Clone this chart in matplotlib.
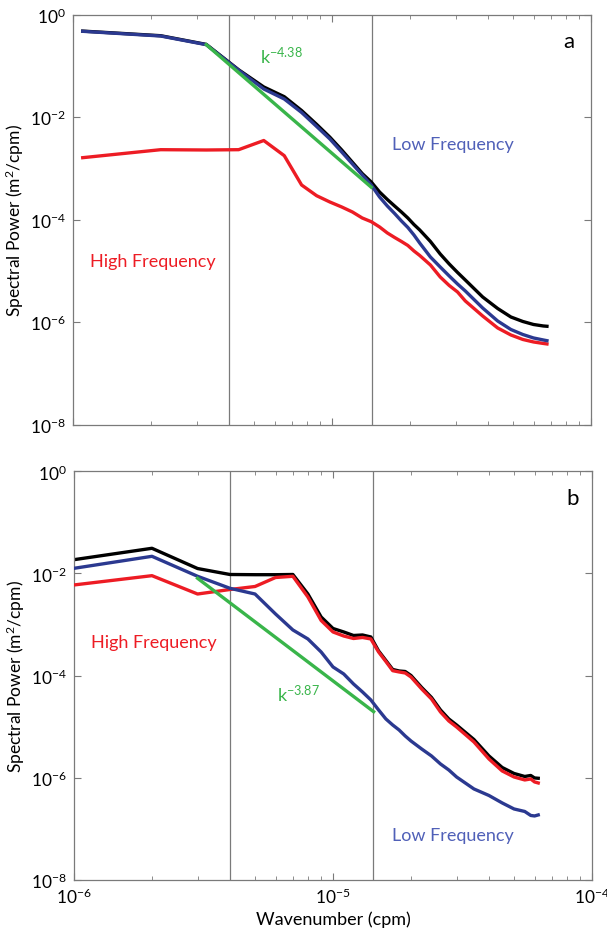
import numpy as np
import matplotlib
matplotlib.use("Agg")
import matplotlib.pyplot as plt
from matplotlib.ticker import LogLocator, NullFormatter

plt.rcParams['font.family'] = ['Lato', 'DejaVu Sans']
plt.rcParams['mathtext.fontset'] = 'custom'
plt.rcParams['mathtext.rm'] = 'Lato'
plt.rcParams['mathtext.it'] = 'Lato'

# panel a: wavenumbers (1e-6 cpm) and log10 spectral power
k_a = np.array([1.09, 2.18, 3.27, 4.36, 5.45, 6.54, 7.63, 8.72, 9.81, 10.9,
                11.99, 13.08, 14.17, 15.26, 16.35, 17.44, 18.53, 19.62, 20.71, 21.8,
                23.98, 26.16, 28.34, 30.52, 32.7, 38.15, 43.6, 49.05, 54.5, 59.95,
                65.4, 67.58]) * 1e-6
total_a = [-0.32, -0.41, -0.58, -1.075, -1.41, -1.60, -1.87, -2.14, -2.39, -2.64,
           -2.88, -3.10, -3.264, -3.46, -3.606, -3.733, -3.85, -3.967, -4.094, -4.2,
           -4.425, -4.669, -4.864, -5.03, -5.177, -5.508, -5.733, -5.899, -5.986, -6.045,
           -6.074, -6.08]
low_a = [-0.324, -0.416, -0.585, -1.083, -1.45, -1.645, -1.908, -2.181, -2.425, -2.679,
         -2.913, -3.128, -3.323, -3.557, -3.733, -3.879, -4.025, -4.152, -4.298, -4.455,
         -4.728, -4.923, -5.098, -5.255, -5.391, -5.723, -5.977, -6.143, -6.24, -6.308,
         -6.347, -6.361]
high_a = [-2.79, -2.634, -2.64, -2.634, -2.455, -2.751, -3.323, -3.532, -3.655, -3.752,
          -3.85, -3.967, -4.039, -4.142, -4.259, -4.347, -4.425, -4.503, -4.61, -4.698,
          -4.884, -5.118, -5.284, -5.411, -5.586, -5.879, -6.113, -6.25, -6.337, -6.386,
          -6.415, -6.425]
fit_k_a = [3.27e-6, 1.417e-5]
fit_p_a = [0.26, 4.3e-4]

# panel b
k_b = np.array([1, 2, 3, 4, 5, 6, 7, 8, 9, 10,
                11, 12, 13, 14, 15, 16, 17, 18, 19, 20,
                22, 24, 26, 28, 30, 35, 40, 45, 50, 55,
                58, 60, 62]) * 1e-6
total_b = [-1.730, -1.507, -1.903, -2.020, -2.024, -2.024, -2.020, -2.402, -2.852, -3.077,
           -3.145, -3.214, -3.204, -3.243, -3.517, -3.703, -3.879, -3.909, -3.919, -3.997,
           -4.232, -4.427, -4.672, -4.848, -4.966, -5.250, -5.572, -5.798, -5.915, -5.974,
           -5.954, -6.003, -6.009]
high_b = [-2.225, -2.043, -2.402, -2.314, -2.255, -2.079, -2.055, -2.460, -2.920, -3.145,
          -3.224, -3.273, -3.253, -3.282, -3.537, -3.723, -3.903, -3.928, -3.948, -4.026,
          -4.261, -4.457, -4.711, -4.887, -5.005, -5.298, -5.631, -5.866, -5.984, -6.042,
          -6.023, -6.081, -6.101]
low_b = [-1.899, -1.664, -2.055, -2.290, -2.402, -2.793, -3.106, -3.282, -3.537, -3.830,
         -3.967, -4.163, -4.320, -4.476, -4.672, -4.848, -4.966, -5.064, -5.181, -5.279,
         -5.436, -5.572, -5.729, -5.847, -5.984, -6.218, -6.346, -6.492, -6.610, -6.659,
         -6.737, -6.747, -6.727]
fit_k_b = [3e-6, 1.435e-5]
fit_p_b = [8.05e-3, 1.97e-5]

cutoffs = [4e-6, 1.43e-5]

RED = '#ed1c24'
BLUE = '#2b3990'
GREEN = '#39b54a'
LOWTXT = '#5060b8'
GRAY = '#7a7a7a'

fig = plt.figure(figsize=(6.07, 9.29), dpi=100)
ax_a = fig.add_axes([0.1203, 0.5418, 0.8534, 0.4413])
ax_b = fig.add_axes([0.1219, 0.0517, 0.8534, 0.4399])


def panel(ax, k, total, low, high, fit_k, fit_p):
    for c in cutoffs:
        ax.axvline(c, color=GRAY, lw=0.9, zorder=1)
    ax.plot(k, 10 ** np.array(total), color='black', lw=2.4, zorder=2)
    ax.plot(k, 10 ** np.array(high), color=RED, lw=2.4, zorder=3)
    ax.plot(k, 10 ** np.array(low), color=BLUE, lw=2.4, zorder=4)
    ax.plot(fit_k, fit_p, color=GREEN, lw=2.4, zorder=5)
    ax.set_xscale('log')
    ax.set_yscale('log')
    ax.set_xlim(1e-6, 1e-4)
    ax.set_ylim(1e-8, 1)
    ax.set_yticks([1e-8, 1e-6, 1e-4, 1e-2, 1])
    ax.yaxis.set_minor_locator(plt.NullLocator())
    ax.xaxis.set_major_locator(LogLocator(base=10))
    ax.xaxis.set_minor_locator(LogLocator(base=10, subs=np.arange(2, 10)))
    ax.xaxis.set_minor_formatter(NullFormatter())
    ax.tick_params(which='both', direction='in', top=True, right=True,
                   color=GRAY, labelsize=12.5, pad=5)
    ax.tick_params(which='major', length=5)
    ax.tick_params(which='minor', length=3)
    for s in ax.spines.values():
        s.set_color(GRAY)
        s.set_linewidth(0.9)
    ax.set_ylabel('Spectral Power (m$^2$/cpm)', fontsize=12.5, labelpad=3)


panel(ax_a, k_a, total_a, low_a, high_a, fit_k_a, fit_p_a)
panel(ax_b, k_b, total_b, low_b, high_b, fit_k_b, fit_p_b)
ax_a.tick_params(labelbottom=False)
ax_b.set_xlabel('Wavenumber (cpm)', fontsize=13, labelpad=3)

ax_a.text(0.957, 0.935, 'a', transform=ax_a.transAxes, fontsize=16, ha='center', va='center')
ax_b.text(0.963, 0.935, 'b', transform=ax_b.transAxes, fontsize=16, ha='center', va='center')

ax_a.text(1.16e-6, 1.54e-5, 'High Frequency', color=RED, fontsize=13, va='center')
ax_a.text(1.70e-5, 3.0e-3, 'Low Frequency', color=LOWTXT, fontsize=13, va='center')
ax_a.text(5.27e-6, 0.114, r'k$^{-4.38}$', color=GREEN, fontsize=13, va='baseline')

ax_b.text(1.16e-6, 4.56e-4, 'High Frequency', color=RED, fontsize=13, va='center')
ax_b.text(1.685e-5, 7.6e-8, 'Low Frequency', color=LOWTXT, fontsize=13, va='center')
ax_b.text(6.06e-6, 3.24e-5, r'k$^{-3.87}$', color=GREEN, fontsize=13, va='baseline')

fig.savefig('out.png', dpi=100)
